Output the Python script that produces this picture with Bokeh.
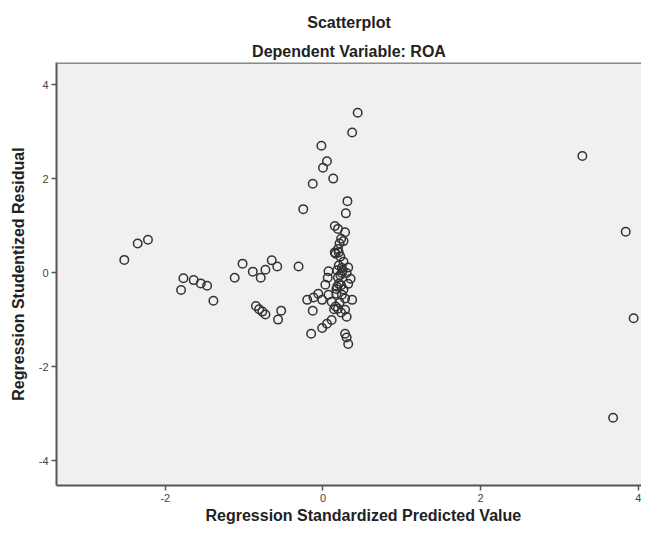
from bokeh.plotting import figure
from bokeh.models import ColumnDataSource, Range1d, FixedTicker, Title, Span
from bokeh.embed import file_html
from bokeh.resources import INLINE

# Regression Standardized Predicted Value
pred = [-2.52, -2.35, -2.22, -1.77, -1.80, -1.64, -1.55, -1.47, -1.39, -1.12,
        -1.02, -0.89, -0.79, -0.73, -0.65, -0.58, -0.85, -0.81, -0.77, -0.73,
        -0.53, -0.57, -0.31,
        0.44, 0.37, -0.02, 0.05, 0.00, 0.13, -0.13, 0.31, -0.25, 0.29,
        0.15, 0.19, 0.28, 0.23, 0.26, 0.21, 0.15, 0.20, 0.16, 0.22,
        0.20, 0.24, 0.32, 0.07, 0.24, 0.30, 0.06, 0.19, 0.35, 0.03,
        0.20, 0.23, 0.32, -0.20, -0.12, -0.06, 0.07, 0.17, 0.24, 0.28,
        0.37, -0.01, -0.13, 0.16, 0.19, 0.28, 0.30, 0.11, 0.05, -0.01,
        -0.15, 0.28, 0.30, 0.32,
        0.11, 0.14, 0.23, 0.26, 0.17, 0.26,
        0.18, 0.22, 0.25, 0.18, 0.21, 0.19,
        3.29, 3.84, 3.94, 3.68]

# Regression Studentized Residual
resid = [0.27, 0.62, 0.70, -0.12, -0.37, -0.16, -0.23, -0.28, -0.60, -0.11,
         0.19, 0.02, -0.11, 0.06, 0.26, 0.13, -0.71, -0.78, -0.83, -0.89,
         -0.81, -1.00, 0.13,
         3.40, 2.98, 2.70, 2.37, 2.23, 2.00, 1.89, 1.52, 1.35, 1.26,
         0.99, 0.93, 0.86, 0.72, 0.67, 0.62, 0.43, 0.43, 0.40, 0.34,
         0.15, 0.10, 0.11, 0.03, -0.01, -0.01, -0.11, -0.10, -0.13, -0.26,
         -0.24, -0.27, -0.24, -0.58, -0.53, -0.45, -0.47, -0.45, -0.47, -0.55,
         -0.58, -0.58, -0.81, -0.72, -0.77, -0.79, -0.94, -1.01, -1.09, -1.18,
         -1.30, -1.30, -1.38, -1.52,
         -0.62, -0.78, -0.85, 0.23, -0.35, -0.36,
         0.05, -0.05, 0.04, -0.30, -0.64, 0.50,
         2.48, 0.87, -0.97, -3.09]

x_ticks = [-2, 0, 2, 4]
y_ticks = [-4, -2, 0, 2, 4]
x_tick_labels = {-2: "-2", 0: "0", 2: "2", 4: "4"}
y_tick_labels = {-4: "-4", -2: "-2", 0: "0", 2: "2", 4: "4"}

FONT = "Liberation Sans"

src = ColumnDataSource(data=dict(x=pred, y=resid))

p = figure(width=641, height=524, output_backend="svg", toolbar_location=None,
           x_range=Range1d(-3.38, 4.04), y_range=Range1d(-4.53, 4.47),
           min_border_left=56, min_border_right=0, min_border_top=62,
           min_border_bottom=39)

p.background_fill_color = "#f0f0f0"
p.border_fill_color = "white"
p.outline_line_color = None
p.xgrid.visible = False
p.ygrid.visible = False

p.title.text = "Scatterplot"
p.title.text_font = FONT
p.title.text_font_size = "16px"
p.title.text_font_style = "bold"
p.title.text_color = "#222222"
p.title.align = "center"
p.title.standoff = 14

t2 = Title(text="Dependent Variable: ROA", text_font=FONT, text_font_size="16px",
           text_font_style="bold", text_color="#222222", align="center",
           standoff=6)
p.add_layout(t2, "above")

top_line = Span(location=4.47, dimension="width", line_color="#8a8a8a",
                line_width=3)
p.add_layout(top_line)

for ax in (p.xaxis[0], p.yaxis[0]):
    ax.axis_line_color = "#555555"
    ax.axis_line_width = 2
    ax.major_tick_line_color = "#555555"
    ax.major_tick_line_width = 1.5
    ax.major_tick_out = 5
    ax.major_tick_in = 0
    ax.minor_tick_line_color = None
    ax.major_label_text_font = FONT
    ax.major_label_text_font_size = "11px"
    ax.major_label_text_color = "#444444"
    ax.axis_label_text_font = FONT
    ax.axis_label_text_font_size = "16px"
    ax.axis_label_text_font_style = "bold"
    ax.axis_label_text_color = "#222222"

p.xaxis[0].ticker = FixedTicker(ticks=x_ticks)
p.yaxis[0].ticker = FixedTicker(ticks=y_ticks)
p.xaxis[0].major_label_overrides = x_tick_labels
p.yaxis[0].major_label_overrides = y_tick_labels
p.yaxis[0].axis_label = "Regression Studentized Residual"
p.xaxis[0].major_label_standoff = 3
p.yaxis[0].major_label_standoff = 3
p.yaxis[0].axis_label_standoff = 9
p.yaxis[0].major_label_orientation = "horizontal"

xt = Title(text="Regression Standardized Predicted Value", text_font=FONT,
           text_font_size="16px", text_font_style="bold", text_color="#222222",
           align="left", offset=149, standoff=0)
p.add_layout(xt, "below")

p.scatter(x="x", y="y", source=src, marker="circle", size=8.5,
          fill_color=None, line_color="#333333", line_width=1.5)

open("out.html", "w").write(file_html(p, INLINE))
